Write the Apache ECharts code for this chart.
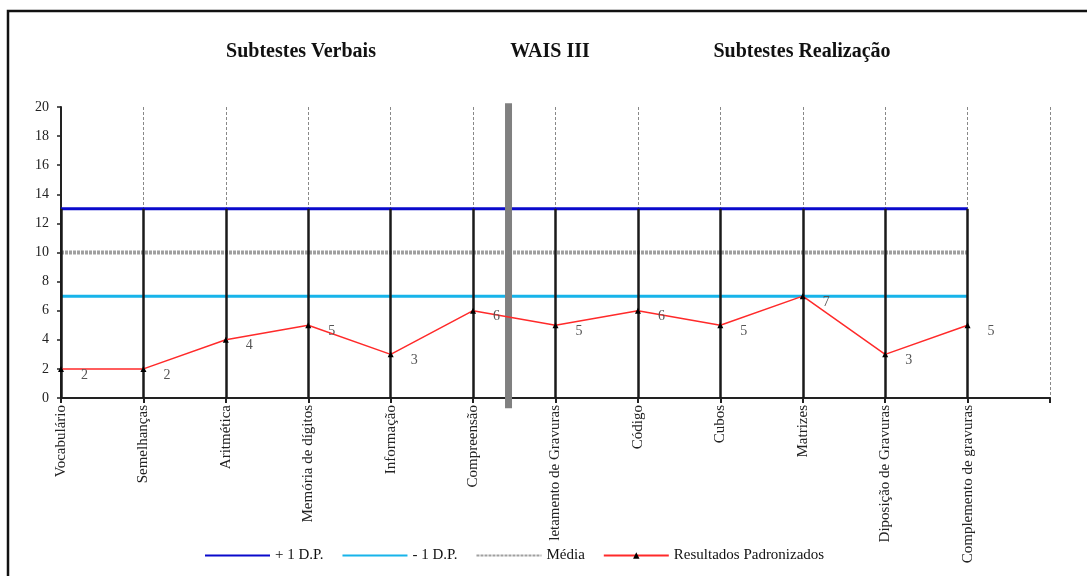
<!DOCTYPE html>
<html>
<head>
<meta charset="utf-8">
<script src="https://cdn.jsdelivr.net/npm/echarts@6/dist/echarts.min.js"></script>
<style>
  html, body { margin: 0; padding: 0; background: #fff; }
  #main { width: 1087px; height: 576px; }
</style>
</head>
<body>
<div id="main"></div>
<script>
// subtestes WAIS III
var categories = ['Vocabulário', 'Semelhanças', 'Aritmética', 'Memória de dígitos', 'Informação', 'Compreensão',
    'letamento de Gravuras', 'Código', 'Cubos', 'Matrizes', 'Diposição de Gravuras', 'Complemento de gravuras'];
var resultados = [2, 2, 4, 5, 3, 6, 5, 6, 5, 7, 3, 5];
var plusDP = [13, 13, 13, 13, 13, 13, 13, 13, 13, 13, 13, 13];
var minusDP = [7, 7, 7, 7, 7, 7, 7, 7, 7, 7, 7, 7];
var media = [10, 10, 10, 10, 10, 10, 10, 10, 10, 10, 10, 10];
var yTicks = [0, 2, 4, 6, 8, 10, 12, 14, 16, 18, 20];
var separatorAt = 5.43;

var serif = 'Liberation Serif';

function pairs(arr) {
    return arr.map(function (v, i) { return [i, v]; });
}

var dropLines = categories.map(function (c, i) {
    return [{ coord: [i, 0] }, { coord: [i, plusDP[i]] }];
});

var myChart = echarts.init(document.getElementById('main'));

var titleStyle = { fontFamily: serif, fontSize: 20, fontWeight: 'bold', color: '#111' };

var option = {
    animation: false,
    backgroundColor: '#fff',
    textStyle: { fontFamily: serif },
    graphic: [{
        type: 'rect',
        shape: { x: 8, y: 11, width: 1120, height: 620 },
        style: { fill: 'none', stroke: '#111', lineWidth: 2.5 },
        silent: true
    }],
    title: [
        { text: 'Subtestes Verbais', left: 296, top: 37, textAlign: 'center', textStyle: titleStyle },
        { text: 'WAIS III', left: 545, top: 37, textAlign: 'center', textStyle: titleStyle },
        { text: 'Subtestes Realização', left: 797, top: 37, textAlign: 'center', textStyle: titleStyle }
    ],
    legend: {
        left: 199,
        top: 543,
        itemWidth: 65,
        itemHeight: 8,
        itemGap: 18,
        data: [
            { name: '+ 1 D.P.', itemStyle: { opacity: 0 } },
            { name: '- 1 D.P.', itemStyle: { opacity: 0 } },
            { name: 'Média', itemStyle: { opacity: 0 } },
            'Resultados Padronizados'
        ],
        textStyle: { fontFamily: serif, fontSize: 15, color: '#111' }
    },
    grid: { left: 61, right: 37, top: 107, bottom: 178 },
    xAxis: {
        type: 'value',
        min: 0,
        max: 12,
        interval: 1,
        axisLine: { lineStyle: { color: '#222', width: 2 } },
        axisTick: { show: true, length: 5, lineStyle: { color: '#222', width: 2 } },
        axisLabel: {
            rotate: 90,
            margin: 7,
            fontFamily: serif,
            fontSize: 15,
            color: '#222',
            formatter: function (v) { return categories[v] || ''; }
        },
        splitLine: { show: true, lineStyle: { color: '#888', type: [3, 2], width: 1 } }
    },
    yAxis: {
        type: 'value',
        min: yTicks[0],
        max: yTicks[yTicks.length - 1],
        interval: yTicks[1] - yTicks[0],
        axisLine: { show: true, lineStyle: { color: '#222', width: 2 } },
        axisTick: { show: true, length: 4, lineStyle: { color: '#222', width: 1.5 } },
        axisLabel: { fontFamily: serif, fontSize: 14, color: '#222', margin: 12 },
        splitLine: { show: false }
    },
    series: [
        {
            name: 'drops',
            type: 'line',
            data: [],
            z: 1,
            markLine: {
                silent: true,
                symbol: 'none',
                label: { show: false },
                lineStyle: { color: '#1a1a1a', width: 2.5, type: 'solid' },
                data: dropLines
            }
        },
        {
            name: 'separador',
            type: 'line',
            data: [[separatorAt, 20.25], [separatorAt, -0.7]],
            clip: false,
            symbol: 'none',
            silent: true,
            z: 5,
            lineStyle: { color: '#808080', width: 7 }
        },
        {
            name: '+ 1 D.P.',
            type: 'line',
            data: pairs(plusDP),
            symbol: 'none',
            z: 3,
            itemStyle: { color: '#0a0acc' },
            lineStyle: { color: '#0a0acc', width: 3 }
        },
        {
            name: '- 1 D.P.',
            type: 'line',
            data: pairs(minusDP),
            symbol: 'none',
            z: 3,
            itemStyle: { color: '#17b4ea' },
            lineStyle: { color: '#17b4ea', width: 3 }
        },
        {
            name: 'Média',
            type: 'line',
            data: pairs(media),
            symbol: 'none',
            z: 3,
            itemStyle: { color: '#a0a0a0' },
            lineStyle: { color: '#a0a0a0', width: 4, type: [3, 1] }
        },
        {
            name: 'Resultados Padronizados',
            type: 'line',
            data: pairs(resultados),
            symbol: 'triangle',
            symbolSize: 6,
            z: 6,
            itemStyle: { color: '#000' },
            lineStyle: { color: '#ff2a2a', width: 1.5 },
            label: {
                show: true,
                position: 'right',
                offset: [12, 6],
                fontFamily: serif,
                fontSize: 14,
                color: '#555'
            }
        }
    ]
};

myChart.setOption(option);
</script>
</body>
</html>
